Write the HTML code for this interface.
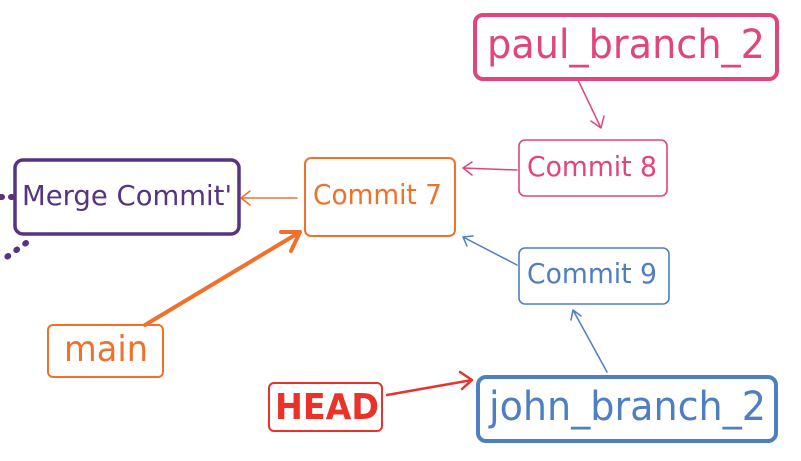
<!DOCTYPE html>
<html><head><meta charset="utf-8"><style>
html,body{margin:0;padding:0;background:#fff;width:801px;height:461px;overflow:hidden}
svg text{font-family:"DejaVu Sans","Liberation Sans",sans-serif}
</style></head><body>
<svg width="801" height="461" viewBox="0 0 801 461" xmlns="http://www.w3.org/2000/svg">
<g fill="none" stroke-linecap="round" stroke-linejoin="round">
<rect x="475" y="15" width="302" height="64" rx="8" stroke="#e0457b" stroke-width="4"/>
<rect x="519" y="140" width="148" height="56" rx="6" stroke="#e0457b" stroke-width="1.6"/>
<rect x="305" y="158" width="150" height="78" rx="6" stroke="#f0712c" stroke-width="2"/>
<rect x="15" y="160" width="224" height="74" rx="8" stroke="#55357f" stroke-width="3.5"/>
<rect x="519" y="248" width="150" height="56" rx="6" stroke="#4f7ec1" stroke-width="1.6"/>
<rect x="48" y="325" width="115" height="52" rx="5" stroke="#f0712c" stroke-width="2"/>
<rect x="269" y="383" width="113" height="48" rx="5" stroke="#e8332a" stroke-width="2"/>
<rect x="478" y="377" width="298" height="64" rx="8" stroke="#4f7ec1" stroke-width="4"/>
<path d="M578 80 L601 128 M591 121 L601 128 L604 116" stroke="#e0457b" stroke-width="1.5"/>
<path d="M517 170 L463 168 M472 162 L463 168 L472 175" stroke="#e0457b" stroke-width="1.5"/>
<path d="M297 198 L241 198 M250 191 L241 198 L250 205" stroke="#f0712c" stroke-width="1.5"/>
<path d="M517 265 L463 237 M467 246 L463 237 L473 236" stroke="#4f7ec1" stroke-width="1.5"/>
<path d="M607 372 L573 310 M571 320 L573 310 L581 316" stroke="#4f7ec1" stroke-width="1.5"/>
<path d="M145 325 L300 232 M281 232 L300 232 L291 251" stroke="#f0712c" stroke-width="4"/>
<path d="M387 395 L472 380 M460 372 L472 380 L462 389" stroke="#e8332a" stroke-width="2.5"/>
<path d="M12 197 L0 197" stroke="#55357f" stroke-width="6" stroke-dasharray="1 9"/>
<path d="M26 243 L0 262" stroke="#55357f" stroke-width="6" stroke-dasharray="1 10"/>
</g>
<g font-size="28" lengthAdjust="spacingAndGlyphs">
<text x="487" y="58" font-size="40" fill="#e0457b" textLength="278" lengthAdjust="spacingAndGlyphs">paul_branch_2</text>
<text x="527" y="176" fill="#e0457b" textLength="130" lengthAdjust="spacingAndGlyphs">Commit 8</text>
<text x="313" y="204" fill="#f0712c" textLength="129" lengthAdjust="spacingAndGlyphs">Commit 7</text>
<text x="22" y="205" fill="#55357f" textLength="210" lengthAdjust="spacingAndGlyphs">Merge Commit'</text>
<text x="527" y="283" fill="#4f7ec1" textLength="130" lengthAdjust="spacingAndGlyphs">Commit 9</text>
<text x="64" y="361" font-size="36" fill="#f0712c" textLength="84" lengthAdjust="spacingAndGlyphs">main</text>
<text x="275" y="419" font-size="36" font-weight="bold" fill="#e8332a" textLength="104" lengthAdjust="spacingAndGlyphs">HEAD</text>
<text x="489" y="420" font-size="40" fill="#4f7ec1" textLength="277" lengthAdjust="spacingAndGlyphs">john_branch_2</text>
</g>
</svg>
</body></html>
